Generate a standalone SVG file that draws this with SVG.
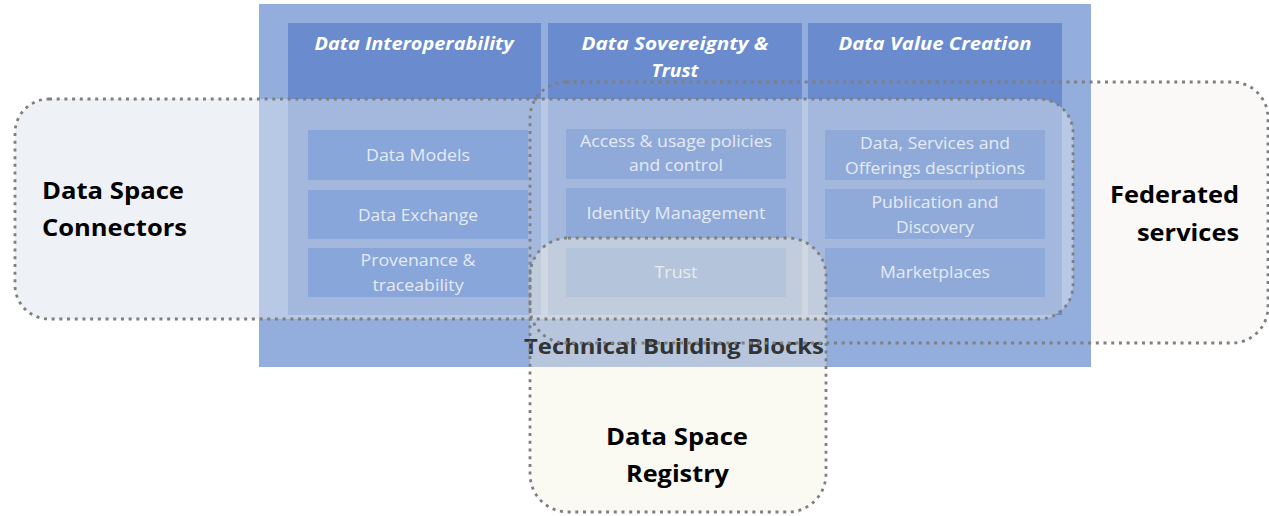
<svg xmlns="http://www.w3.org/2000/svg" width="1269" height="516" viewBox="0 0 1269 516">
<style>
.hdr{font-family:"Open Sans","Liberation Sans",sans-serif;font-weight:700;font-style:italic;font-size:17px;fill:#FFFFFF;text-anchor:middle}
.itm{font-family:"Open Sans","Liberation Sans",sans-serif;font-size:15.5px;fill:#E4EAF4;text-anchor:middle}
.big{font-family:"Open Sans","Liberation Sans",sans-serif;font-weight:700;font-size:23px;fill:#000000}
.tbb{font-family:"Open Sans","Liberation Sans",sans-serif;font-weight:700;font-size:21px;fill:#333333;text-anchor:middle}
.dot{fill:none;stroke:#7F7F7F;stroke-width:2.8;stroke-dasharray:3 4.7}
.col{fill:#6A8BCD}
.box1{fill:#88A6DA}
.box2{fill:#8FAAD8}
</style>
<rect width="1269" height="516" fill="#FFFFFF"/>
<g id="federated-fill">
<rect x="530" y="82" width="738" height="261" rx="36" fill="#FAF9F7"/>
</g>
<g id="technical-building-blocks">
<rect x="259" y="4" width="832" height="363" fill="#93ADDC"/>
<rect class="col" x="288" y="23" width="253" height="292"/>
<rect class="col" x="548" y="23" width="254" height="292"/>
<rect class="col" x="808" y="23" width="254" height="292"/>
</g>
<g id="connectors-fill">
<rect x="15" y="99" width="1058" height="220" rx="34" fill="#DDE5EF" fill-opacity="0.5"/>
</g>
<g id="col-interoperability">
<text class="hdr" x="414" y="50" textLength="199" lengthAdjust="spacingAndGlyphs">Data Interoperability</text>
<rect class="box1" x="308" y="130" width="220" height="50"/>
<text class="itm" x="418" y="161" textLength="104" lengthAdjust="spacingAndGlyphs">Data Models</text>
<rect class="box1" x="308" y="190" width="220" height="49"/>
<text class="itm" x="418" y="221" textLength="120" lengthAdjust="spacingAndGlyphs">Data Exchange</text>
<rect class="box1" x="308" y="248" width="220" height="49"/>
<text class="itm" x="418" y="266" textLength="115" lengthAdjust="spacingAndGlyphs">Provenance &amp;</text>
<text class="itm" x="418" y="291" textLength="91" lengthAdjust="spacingAndGlyphs">traceability</text>
</g>
<g id="col-sovereignty">
<text class="hdr" x="675" y="50" textLength="187" lengthAdjust="spacingAndGlyphs">Data Sovereignty &amp;</text>
<text class="hdr" x="675" y="77" textLength="47" lengthAdjust="spacingAndGlyphs">Trust</text>
<rect class="box2" x="566" y="129" width="220" height="50"/>
<text class="itm" x="676" y="147" textLength="192" lengthAdjust="spacingAndGlyphs">Access &amp; usage policies</text>
<text class="itm" x="676" y="171" textLength="94" lengthAdjust="spacingAndGlyphs">and control</text>
<rect class="box2" x="566" y="188" width="220" height="50"/>
<text class="itm" x="676" y="219" textLength="179" lengthAdjust="spacingAndGlyphs">Identity Management</text>
<rect class="box2" x="566" y="248" width="220" height="49"/>
<text class="itm" x="676" y="278" textLength="43" lengthAdjust="spacingAndGlyphs">Trust</text>
</g>
<g id="col-value-creation">
<text class="hdr" x="935" y="50" textLength="193" lengthAdjust="spacingAndGlyphs">Data Value Creation</text>
<rect class="box2" x="825" y="130" width="220" height="50"/>
<text class="itm" x="935" y="149" textLength="150" lengthAdjust="spacingAndGlyphs">Data, Services and</text>
<text class="itm" x="935" y="174" textLength="180" lengthAdjust="spacingAndGlyphs">Offerings descriptions</text>
<rect class="box2" x="825" y="189" width="220" height="50"/>
<text class="itm" x="935" y="208" textLength="127" lengthAdjust="spacingAndGlyphs">Publication and</text>
<text class="itm" x="935" y="233" textLength="78" lengthAdjust="spacingAndGlyphs">Discovery</text>
<rect class="box2" x="825" y="248" width="220" height="49"/>
<text class="itm" x="935" y="278" textLength="110" lengthAdjust="spacingAndGlyphs">Marketplaces</text>
</g>
<g id="registry-fill">
<rect x="530" y="238" width="296" height="274" rx="38" fill="#F3EEDD" fill-opacity="0.38"/>
</g>
<g id="tbb-label">
<text class="tbb" x="674" y="354" textLength="300" lengthAdjust="spacingAndGlyphs">Technical Building Blocks</text>
</g>
<g id="connectors-outlines">
<rect class="dot" x="15" y="99" width="1058" height="220" rx="34"/>
<rect class="dot" x="530" y="82" width="738" height="261" rx="36"/>
<rect class="dot" x="530" y="238" width="296" height="274" rx="38"/>
</g>
<g id="data-space-connectors">
<text class="big" x="42" y="199" textLength="142" lengthAdjust="spacingAndGlyphs">Data Space</text>
<text class="big" x="42" y="236" textLength="145" lengthAdjust="spacingAndGlyphs">Connectors</text>
</g>
<g id="federated-services">
<text class="big" x="1110" y="203" textLength="129" lengthAdjust="spacingAndGlyphs">Federated</text>
<text class="big" x="1137" y="241" textLength="102" lengthAdjust="spacingAndGlyphs">services</text>
</g>
<g id="data-space-registry">
<text class="big" x="606" y="445" textLength="142" lengthAdjust="spacingAndGlyphs">Data Space</text>
<text class="big" x="626" y="482" textLength="103" lengthAdjust="spacingAndGlyphs">Registry</text>
</g>
</svg>
